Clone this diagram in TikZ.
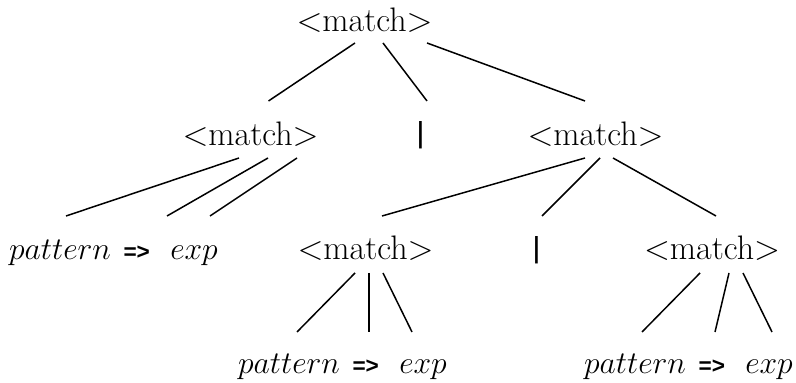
\RequirePackage{fix-cm}
\documentclass[tikz,border=0pt]{standalone}
\usepackage{fontspec}
\newfontfamily\arrfont{Liberation Sans}
\usetikzlibrary{calc}
\newcommand\myarrow{{\arrfont\fontsize{11.3}{13}\selectfont\bfseries =>}}
\newcommand\mype{$pattern$\hspace{6.3pt}\myarrow\hspace{10.2pt}$exp$}
\newcommand\mybar{\scalebox{0.75}[1.05]{\arrfont\fontsize{13.8}{16}\selectfont\bfseries |}}
\begin{document}
\begin{tikzpicture}[x=0.5pt,y=-0.5pt,
  every node/.style={inner sep=0pt,outer sep=0pt},
  nt/.style={anchor=base,font=\fontsize{17}{20}\selectfont},
  pt/.style={anchor=base,font=\fontsize{15.8}{19}\selectfont},
  bt/.style={anchor=center},
  edge/.style={line width=0.75pt}]
\useasboundingbox (0,0) rectangle (796,383);
% nodes
\node[nt] (root) at (364.5,32) {$<$match$>$};
\node[nt] (L) at (250.5,146) {$<$match$>$};
\node[bt] (bar1) at (420.5,135) {\mybar};
\node[nt] (R) at (595.5,146) {$<$match$>$};
\node[pt] (P1) at (113.5,260) {\mype};
\node[nt] (M1) at (365.5,260) {$<$match$>$};
\node[bt] (bar2) at (536.5,250) {\mybar};
\node[nt] (M2) at (712,260) {$<$match$>$};
\node[pt] (P2) at (342.5,374) {\mype};
\node[pt] (P3) at (688.5,374) {\mype};
% edges
\draw[edge] ($(root.base)+(-9.5,11)$) -- ($(L.base)+(18,-45)$);
\draw[edge] ($(root.base)+(18.5,11)$) -- ($(bar1.center)+(6.5,-34)$);
\draw[edge] ($(root.base)+(62.5,11)$) -- ($(R.base)+(-10.5,-45)$);
\draw[edge] ($(L.base)+(-11.5,12)$) -- ($(P1.base)+(-47.5,-44)$);
\draw[edge] ($(L.base)+(17.5,12)$) -- ($(P1.base)+(53.5,-44)$);
\draw[edge] ($(L.base)+(46.5,12)$) -- ($(P1.base)+(96.5,-44)$);
\draw[edge] ($(R.base)+(-10.5,12)$) -- ($(M1.base)+(16.5,-44)$);
\draw[edge] ($(R.base)+(4.5,12)$) -- ($(bar2.center)+(5.5,-34)$);
\draw[edge] ($(R.base)+(17.5,12)$) -- ($(M2.base)+(4,-44)$);
\draw[edge] ($(M1.base)+(-10.5,13)$) -- ($(P2.base)+(-45.5,-42)$);
\draw[edge] ($(M1.base)+(3.5,13)$) -- ($(P2.base)+(26.5,-42)$);
\draw[edge] ($(M1.base)+(17.5,13)$) -- ($(P2.base)+(69.5,-42)$);
\draw[edge] ($(M2.base)+(-12,13)$) -- ($(P3.base)+(-46.5,-42)$);
\draw[edge] ($(M2.base)+(17,13)$) -- ($(P3.base)+(26.5,-42)$);
\draw[edge] ($(M2.base)+(31,13)$) -- ($(P3.base)+(83.5,-42)$);
\end{tikzpicture}
\end{document}
